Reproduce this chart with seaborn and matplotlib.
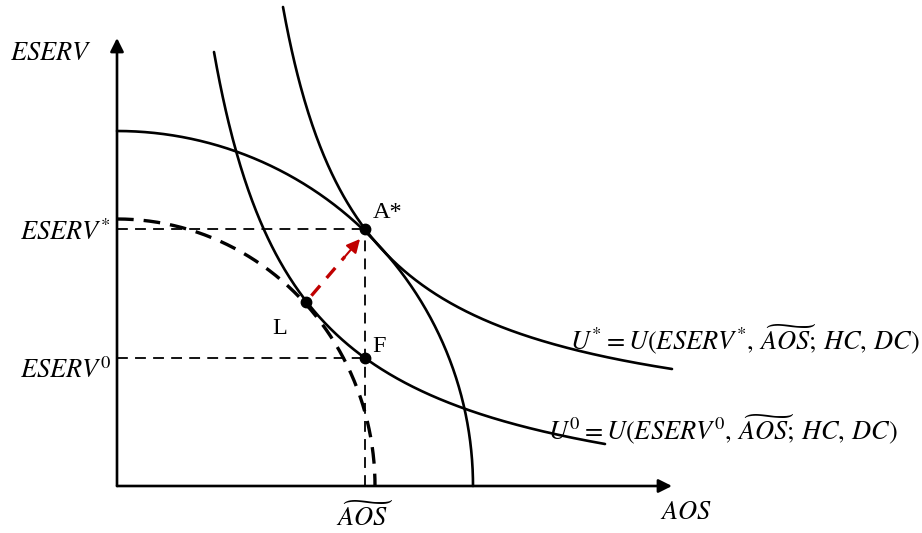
import numpy as np
import matplotlib
matplotlib.use("Agg")
import matplotlib.pyplot as plt
import seaborn as sns

sns.set_theme(style="white")
plt.rcParams["mathtext.fontset"] = "stix"
plt.rcParams["font.family"] = ["Liberation Serif", "DejaVu Serif"]
plt.rcParams["text.color"] = "black"

# Diagram coordinates: origin at the corner of the axes, units of 1/100 inch
x_axis_end = 555
y_axis_end = 448

# Production possibility frontiers (quarter ellipses: x-intercept, y-intercept)
ppf_outer = (356, 355)
ppf_inner = (258, 267)

# Anchor points that each indifference curve passes through
u_star_pts = [(166, 479), (248, 257), (555, 117)]
u_zero_pts = [(97, 434), (248, 128), (488, 42)]

# Marked points
pt_A = (248, 257)
pt_F = (248, 128)
pt_L = (189, 184)
arrow_tip = (243, 247)

def hyperbola(points):
    # (x - a)(y - b) = k through three points
    A = np.array([[x, y, 1.0] for x, y in points])
    rhs = np.array([x * y for x, y in points])
    b, a, c = np.linalg.solve(A, rhs)
    k = c + a * b
    return a, b, k

def ellipse_xy(ab, n=300):
    t = np.linspace(0, np.pi / 2, n)
    return ab[0] * np.sin(t), ab[1] * np.cos(t)

fig = plt.figure(figsize=(9.22, 5.33), dpi=100)
ax = fig.add_axes([0, 0, 1, 1])
ax.set_xlim(-117, 805)
ax.set_ylim(-47, 486)
ax.axis("off")

lw = 1.9

# Axes with arrowheads
ax.annotate("", xy=(0, y_axis_end), xytext=(0, 0),
            arrowprops=dict(arrowstyle="-|>", lw=lw, color="black",
                            mutation_scale=20, shrinkA=0, shrinkB=0))
ax.annotate("", xy=(x_axis_end, 0), xytext=(0, 0),
            arrowprops=dict(arrowstyle="-|>", lw=lw, color="black",
                            mutation_scale=20, shrinkA=0, shrinkB=0))

# Frontiers
xo, yo = ellipse_xy(ppf_outer)
sns.lineplot(x=xo, y=yo, sort=False, color="black", lw=lw, ax=ax)
xi, yi = ellipse_xy(ppf_inner)
ax.plot(xi, yi, color="black", lw=2.4, dashes=(5, 3))

# Indifference curves
a, b, k = hyperbola(u_star_pts)
xs = np.linspace(u_star_pts[0][0], u_star_pts[-1][0], 400)
ax.plot(xs, b + k / (xs - a), color="black", lw=lw)
a, b, k = hyperbola(u_zero_pts)
xs = np.linspace(u_zero_pts[0][0], u_zero_pts[-1][0], 400)
ax.plot(xs, b + k / (xs - a), color="black", lw=lw)

# Guide lines
thin = dict(color="black", lw=1.3, dashes=(6, 4))
ax.plot([0, pt_A[0]], [pt_A[1], pt_A[1]], **thin)
ax.plot([0, pt_F[0]], [pt_F[1], pt_F[1]], **thin)
ax.plot([pt_A[0], pt_A[0]], [0, pt_A[1]], **thin)

# Shift from L towards A*
red = "#c00000"
dx, dy = arrow_tip[0] - pt_L[0], arrow_tip[1] - pt_L[1]
base = (pt_L[0] + 0.72 * dx, pt_L[1] + 0.72 * dy)
start = (pt_L[0] + 0.1 * dx, pt_L[1] + 0.1 * dy)
ax.plot([start[0], base[0]], [start[1], base[1]], color=red, lw=2.4, dashes=(4, 3))
ax.annotate("", xy=arrow_tip, xytext=base,
            arrowprops=dict(arrowstyle="-|>", lw=1.5, color=red,
                            mutation_scale=20, shrinkA=0, shrinkB=0))

# Points
for p in (pt_A, pt_F, pt_L):
    ax.plot(*p, "o", color="black", ms=7.5)

# Point labels
ax.text(pt_A[0] + 8, pt_A[1] + 17, "A*", fontsize=17.5, ha="left", va="center")
ax.text(pt_F[0] + 7, pt_F[1] + 11, "F", fontsize=17.5, ha="left", va="center")
ax.text(pt_L[0] - 26, pt_L[1] - 27, "L", fontsize=17.5, ha="center", va="center")

# Axis labels
ms = 19
ax.text(-66, 432, r"$ESERV$", fontsize=ms, ha="center", va="center")
ax.text(-6, pt_A[1] - 3, r"$ESERV^{*}$", fontsize=ms, ha="right", va="center")
ax.text(-6, pt_F[1] - 12, r"$ESERV^{0}$", fontsize=ms, ha="right", va="center")
ax.text(pt_A[0], -30, r"$\widetilde{AOS}$", fontsize=ms, ha="center", va="center")
ax.text(569, -27, r"$AOS$", fontsize=ms, ha="center", va="center")
ax.text(453, 147, r"$U^{*}=U(ESERV^{*},\,\widetilde{AOS};\,HC,\,DC)$",
        fontsize=ms, ha="left", va="center")
ax.text(431, 57, r"$U^{0}=U(ESERV^{0},\,\widetilde{AOS};\,HC,\,DC)$",
        fontsize=ms, ha="left", va="center")

fig.savefig("out.png", dpi=100, facecolor="white")
